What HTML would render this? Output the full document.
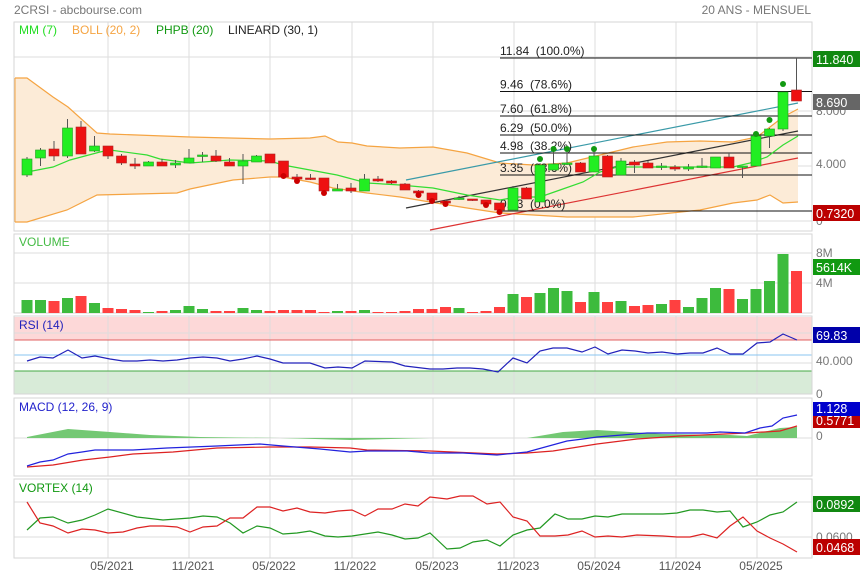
<!DOCTYPE html>
<html><head><meta charset="utf-8">
<style>
html,body{margin:0;padding:0;background:#fff;}
svg{display:block;font-family:"Liberation Sans",sans-serif;}
text{white-space:pre;}
</style></head>
<body>
<svg id="s" width="860" height="580" viewBox="0 0 860 580" xmlns="http://www.w3.org/2000/svg">
<rect width="860" height="580" fill="#fff"/>
<text x="14" y="14" font-size="12" fill="#777">2CRSI - abcbourse.com</text>
<text x="811" y="14" font-size="12" fill="#777" text-anchor="end">20 ANS - MENSUEL</text>
<g id="grid"></g>
<g id="main"></g>
<g id="labels" font-size="12"></g>
</svg>
<script>
var NS="http://www.w3.org/2000/svg",svg=document.getElementById('s');
function el(t,a,p,txt){var e=document.createElementNS(NS,t);for(var k in a)e.setAttribute(k,a[k]);if(txt!==undefined)e.textContent=txt;(p||svg).appendChild(e);return e;}
var G=document.getElementById('grid'),M=document.getElementById('main'),L=document.getElementById('labels');
var L0=14,R0=812;
var panels=[[22,231],[234,313],[316,394],[398,476],[479,558]];
var vx=[108,189,270,352,433,514,595,676,757];
el('rect',{x:L0,y:317,width:R0-L0,height:23,fill:'#fdd8d8'},G);
el('rect',{x:L0,y:371,width:R0-L0,height:23,fill:'#d8ebd8'},G);
panels.forEach(function(p){vx.forEach(function(x){el('line',{x1:x,x2:x,y1:p[0],y2:p[1],stroke:'#ddd'},G);});});
[57,111,166,221,253,283,333,363,438,502,537].forEach(function(y){el('line',{x1:L0,x2:R0,y1:y,y2:y,stroke:'#ddd'},G);});
el('line',{x1:L0,x2:R0,y1:340,y2:340,stroke:'#e06060'},G);
el('line',{x1:L0,x2:R0,y1:355,y2:355,stroke:'#88c4f0'},G);
el('line',{x1:L0,x2:R0,y1:371,y2:371,stroke:'#44aa44'},G);
panels.forEach(function(p){el('rect',{x:L0,y:p[0],width:R0-L0,height:p[1]-p[0],fill:'none',stroke:'#d6d6d6'},G);});
function pl(pts,st,w,par){el('polyline',{points:pts.map(function(p){return p.join(',')}).join(' '),fill:'none',stroke:st,'stroke-width':w||1.2},par||M);}
var up=[[15,78],[27,78],[53,97],[68,107],[97,133],[110,134],[190,137],[270,139],[310,138],[325,136],[338,142],[352,143],[367,146],[400,148],[433,147],[467,153],[500,163],[533,165],[567,163],[600,155],[633,147],[667,142],[700,141],[733,142],[757,137],[770,127],[783,117],[798,109]];
var lo=[[15,222],[27,222],[67,210],[97,195],[177,193],[190,189],[233,180],[270,177],[283,177],[310,182],[333,188],[367,193],[400,197],[430,202],[467,208],[500,213],[567,217],[633,217],[700,210],[733,203],[757,200],[770,195],[783,203],[798,202]];
el('polygon',{points:up.concat(lo.slice().reverse()).map(function(p){return p.join(',')}).join(' '),fill:'#fcebd7',stroke:'none'},M);
pl(up,'#f5a442',1.2);pl(lo,'#f5a442',1.2);el('line',{x1:15,x2:15,y1:78,y2:222,stroke:'#f5a442'},M);
el('line',{x1:406,y1:180,x2:798,y2:103,stroke:'#3a9aa8','stroke-width':1.2},M);
el('line',{x1:406,y1:208,x2:798,y2:131,stroke:'#333','stroke-width':1.2},M);
el('line',{x1:430,y1:230,x2:798,y2:158,stroke:'#dd3333','stroke-width':1.2},M);
[[58,'11.84  (100.0%)'],[91.5,'9.46  (78.6%)'],[116,'7.60  (61.8%)'],[135,'6.29  (50.0%)'],[153,'4.98  (38.2%)'],[175,'3.35  (23.6%)'],[211,'0.73  (0.0%)']].forEach(function(f){
el('line',{x1:500,x2:812,y1:f[0],y2:f[0],stroke:'#111'},M);
el('text',{x:500,y:f[0]-3,'font-size':12,fill:'#222'},M,f[1]);});
pl([[27,172],[53,167],[70,160],[100,152],[110,150],[147,155],[160,159],[190,163],[230,160],[270,161],[283,165],[337,175],[367,183],[400,185],[433,188],[467,195],[500,200],[517,197],[540,197],[560,190],[583,182],[600,172],[617,167],[667,167],[733,167],[750,163],[767,157],[783,145],[798,136]],'#33dd33',1.2);
var C=[['g',159,175,157,177],['g',150,158,148,166],['r',149,156,141,161],['g',128,156,119,158],['r',127,154,121,154],['g',146,151,136,152],['r',146,156,146,159],['r',156,163,154,165],['r',164,166,158,169],['g',162,166,161,166],['r',162,166,159,166],['g',163,165,160,168],['g',158,163,149,163],['g',155,156,152,162],['r',156,161,150,162],['r',162,166,158,166],['g',161,166,154,184],['g',156,162,155,162],['r',154,163,154,163],['r',161,177,161,177,'r',176],['r',177,179,174,181,'r',181],['r',178,179,174,180],['r',178,191,178,191,'r',193],['g',189,191,184,191],['r',188,191,183,193],['g',179,191,174,191],['r',179,181,176,182],['r',181,183,180,184],['r',184,190,183,190],['r',191,193,190,194,'r',195],['r',193,200,193,200,'r',201],['r',201,203,200,203,'r',204],['g',198,199,196,200],['r',199,200,199,201],['r',200,204,200,204,'r',205],['r',203,210,203,210,'r',212],['g',188,210,186,210],['r',188,199,187,199],['g',165,202,163,202,'g',159],['g',164,170,148,170,'g',149],['g',163,164,149,165,'g',149],['r',163,172,162,172],['g',156,172,149,172,'g',149],['r',156,177,155,177],['g',161,175,158,175],['r',162,165,160,173],['r',163,168,161,168],['g',166,167,163,170],['r',167,169,165,171],['g',167,169,164,171],['g',166,167,158,168],['g',157,168,157,168],['r',157,168,153,168],['g',166,167,166,178],['g',136,166,136,166,'g',134],['g',129,136,128,148,'g',120],['g',92,129,92,131,'g',84],['r',90,101,58,101]];
var V=[300,300,301,298,296,303,308,309,310,312,311,310,306,309,311,311,308,310,311,310,310,310,312,311,311,310,312,312,311,309,309,307,308,312,311,307,294,297,293,288,291,302,292,302,301,306,305,304,300,307,298,288,289,299,289,281,254,271];
C.forEach(function(c,i){var x=27+13.5*i;
el('line',{x1:x,x2:x,y1:c[3],y2:c[4],stroke:'#555'},M);
el('rect',{x:x-5,y:c[1],width:10,height:Math.max(1.5,c[2]-c[1]),fill:c[0]=='g'?'#22ee22':'#ee1111',stroke:c[0]=='g'?'#229922':'#aa2222','stroke-width':0.6},M);
if(c[5])el('circle',{cx:x,cy:c[6],r:3,fill:c[5]=='g'?'#119911':'#cc0000'},M);
el('rect',{x:x-5.5,y:V[i],width:11,height:313-V[i],fill:c[0]=='g'?'#3dbb3d':'#ff4040'},M);
});
pl([[27,361],[40,357],[53,358],[68,350],[82,358],[95,356],[110,359],[123,361],[137,361],[150,360],[163,361],[177,360],[190,358],[203,357],[217,358],[230,361],[243,359],[257,356],[270,359],[283,363],[310,363],[325,368],[338,367],[352,368],[365,361],[392,362],[405,366],[430,369],[443,369],[457,368],[470,368],[483,369],[498,372],[513,358],[527,363],[540,351],[553,348],[567,348],[582,352],[595,347],[608,354],[622,350],[635,351],[648,353],[662,352],[677,354],[690,353],[703,353],[717,348],[730,354],[743,354],[757,343],[770,342],[783,334],[797,340]],'#2222bb',1.2);
el('polygon',{points:'27,438 27,437 68,429 110,432 150,435 200,437 280,438 350,440 430,438 527,438 563,432 597,430 630,432 663,434 730,435 747,436 780,428 797,427 797,438',fill:'#74c874',stroke:'none'},M);
pl([[27,467],[53,465],[83,460],[110,457],[133,454],[173,452],[217,448],[270,447],[310,447],[350,448],[367,450],[430,451],[497,454],[527,453],[553,451],[597,444],[637,439],[680,436],[747,433],[780,431],[797,426]],'#dd2222',1.2);
pl([[27,466],[40,462],[53,460],[68,454],[82,452],[95,450],[133,450],[167,448],[217,446],[260,444],[283,446],[320,449],[350,452],[367,451],[407,451],[430,453],[463,453],[497,455],[527,452],[567,441],[583,439],[597,437],[647,433],[707,433],[720,432],[745,433],[760,428],[772,426],[783,418],[797,415]],'#2222dd',1.2);
pl([[27,530],[40,518],[53,517],[68,523],[82,520],[95,515],[108,509],[137,517],[163,520],[190,518],[203,516],[217,517],[230,523],[243,533],[257,526],[270,528],[283,534],[297,533],[310,531],[325,536],[338,537],[352,536],[378,532],[392,535],[405,539],[418,538],[430,533],[447,549],[460,548],[473,542],[487,540],[500,546],[513,535],[527,530],[540,528],[555,514],[568,519],[582,519],[595,516],[608,517],[622,514],[663,514],[677,513],[690,510],[703,510],[717,512],[730,511],[743,527],[757,522],[770,515],[783,512],[797,502]],'#229922',1.2);
pl([[27,502],[40,523],[53,526],[68,533],[82,529],[95,530],[108,533],[123,532],[137,528],[150,526],[163,526],[177,527],[190,532],[203,527],[217,526],[230,518],[243,518],[257,507],[270,507],[283,511],[297,508],[310,512],[325,513],[338,511],[352,510],[365,516],[378,509],[392,509],[405,504],[418,506],[430,497],[447,499],[460,496],[473,496],[487,504],[500,502],[513,517],[527,521],[540,536],[555,536],[568,535],[582,531],[595,537],[608,536],[622,537],[637,535],[663,536],[677,537],[690,537],[703,534],[717,538],[730,526],[743,517],[757,531],[770,538],[783,544],[797,552]],'#dd2222',1.2);
el('text',{x:19,y:34,fill:'#22dd22'},L,'MM (7)');
el('text',{x:72,y:34,fill:'#f5a442'},L,'BOLL (20, 2)');
el('text',{x:156,y:34,fill:'#119911'},L,'PHPB (20)');
el('text',{x:228,y:34,fill:'#222'},L,'LINEARD (30, 1)');
el('text',{x:19,y:246,fill:'#44bb44'},L,'VOLUME');
el('text',{x:19,y:329,fill:'#2222bb'},L,'RSI (14)');
el('text',{x:19,y:411,fill:'#2222cc'},L,'MACD (12, 26, 9)');
el('text',{x:19,y:492,fill:'#119911'},L,'VORTEX (14)');
function rt(y,t){el('text',{x:816,y:y,fill:'#777'},L,t);}
rt(60,'12.000');rt(115,'8.000');rt(168,'4.000');rt(225,'0');rt(257,'8M');rt(287,'4M');rt(337,'60.000');rt(365,'40.000');rt(398,'0');rt(440,'0');rt(541,'0.0600');
function bx(y,h,c,t){el('rect',{x:813,y:y,width:47,height:h,fill:c},L);el('text',{x:816,y:y+h-3,fill:'#fff','font-size':12.5},L,t);}
bx(51,16,'#118811','11.840');bx(94,16,'#666','8.690');bx(205,16,'#bb0000','0.7320');
bx(259,16,'#119911','5614K');bx(327,16,'#0000aa','69.83');
bx(415,13,'#bb0000','0.5771');bx(402,14,'#0000cc','1.128');
bx(496,16,'#118811','0.0892');bx(539,16,'#bb0000','0.0468');
[[112,'05/2021'],[193,'11/2021'],[274,'05/2022'],[355,'11/2022'],[437,'05/2023'],[518,'11/2023'],[599,'05/2024'],[680,'11/2024'],[761,'05/2025']].forEach(function(a){el('text',{x:a[0],y:570,fill:'#555','text-anchor':'middle'},L,a[1]);});
</script>
</body></html>
